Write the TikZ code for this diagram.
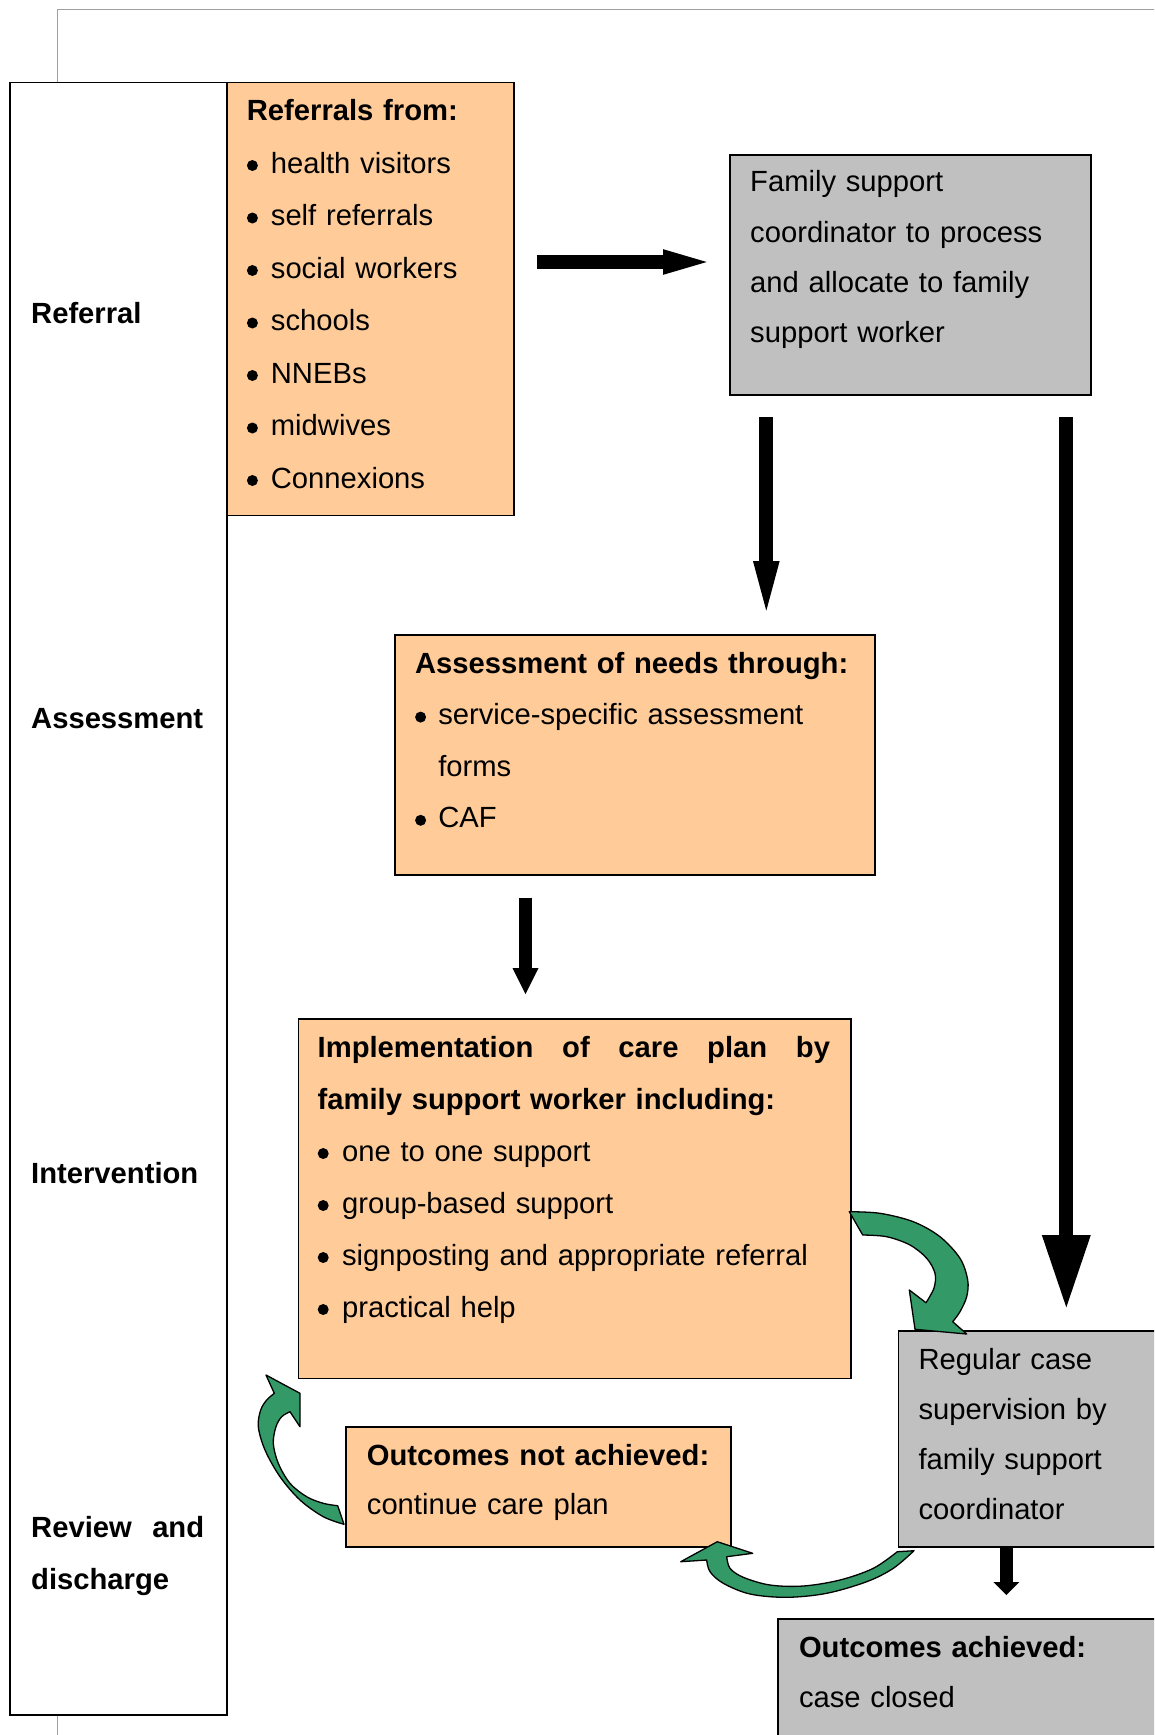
\documentclass[tikz,border=0pt]{standalone}
\usepackage{fontspec}
\setmainfont{Liberation Sans}
\usetikzlibrary{arrows.meta}
\definecolor{peach}{RGB}{255,204,153}
\definecolor{boxgray}{RGB}{192,192,192}
\definecolor{seagreen}{RGB}{51,153,102}
\definecolor{framegray}{RGB}{160,160,160}
\newcommand\bul[1]{\makebox[#1][l]{\raisebox{2pt}{\tikz\fill (0pt,0pt) circle [radius=5.5pt];}}}
\begin{document}
\begin{tikzpicture}[x=1pt,y=-1pt,
  box/.style={draw=black, line width=1.7pt, inner sep=0pt, anchor=north west},
  peachbox/.style={box, fill=peach},
  graybox/.style={box, fill=boxgray},
  txt/.style={anchor=base west, inner sep=0pt, align=left, text width=#1},
  lbl/.style={anchor=base west, inner sep=0pt, align=left, text width=200pt,
    font=\bfseries\fontsize{29.2}{52}\selectfont},
  barrow/.style n args={3}{draw=black, line width=#1,
    -{Triangle[width=#2, length=#3, line width=0pt]}},
  garrow/.style={fill=seagreen, draw=black, line width=1.3pt, line join=round},
  smoothcurve/.style={smooth, tension=0.55}
]
\useasboundingbox (0,0) rectangle (1154,1735);
\clip (0,0) rectangle (1154,1735);

% page frame
\draw[framegray, line width=1.3pt] (57.3,1745) -- (57.3,9.3) -- (1170,9.3);

% stage column
\node[box, fill=white, minimum width=216.7pt, minimum height=1632.6pt] (col) at (9.3,81.7) {};
\node[lbl] (lref) at (31,323.4) {Referral};
\node[lbl] (lass) at (31,728.4) {Assessment};
\node[lbl] (lint) at (31,1183.6) {Intervention};
\node[lbl] (lrev) at (31,1537) {\makebox[173pt][l]{Review\hfill and}\\discharge};

% boxes
\node[peachbox, minimum width=287pt, minimum height=432.8pt] (ref) at (226,81.7) {};
\node[graybox, minimum width=361pt, minimum height=240.3pt] (fsc) at (729.3,154) {};
\node[peachbox, minimum width=480.3pt, minimum height=240pt] (ass) at (393.9,634) {};
\node[peachbox, minimum width=552.4pt, minimum height=359.5pt] (imp) at (297.6,1018) {};
\node[graybox, minimum width=270pt, minimum height=215.7pt] (reg) at (897.7,1330.3) {};
\node[peachbox, minimum width=384.7pt, minimum height=120pt] (notach) at (345.3,1426) {};
\node[graybox, minimum width=390pt, minimum height=130pt] (ach) at (777.3,1618) {};

% texts
\node[txt=280pt, font=\fontsize{29.2}{52.5}\selectfont] (tref) at (246.7,120.5)
  {{\bfseries Referrals from:}\\
   \bul{24pt}health visitors\\
   \bul{24pt}self referrals\\
   \bul{24pt}social workers\\
   \bul{24pt}schools\\
   \bul{24pt}NNEBs\\
   \bul{24pt}midwives\\
   \bul{24pt}Connexions};
\node[txt=335pt, font=\fontsize{29.2}{50.4}\selectfont] (tfsc) at (750,191.7)
  {Family support\\coordinator to process\\and allocate to family\\support worker};
\node[txt=450pt, font=\fontsize{29.2}{51.6}\selectfont] (tass) at (414.9,673)
  {{\bfseries Assessment of needs through:}\\
   \bul{23.2pt}service-specific assessment\\
   \hspace*{23.2pt}forms\\
   \bul{23.2pt}CAF};
\node[txt=525pt, font=\fontsize{29.2}{52}\selectfont] (timp) at (317.5,1057)
  {\makebox[512.3pt][l]{\bfseries Implementation\hfill of\hfill care\hfill plan\hfill by}\\
   {\bfseries family support worker including:}\\
   \bul{24.4pt}one to one support\\
   \bul{24.4pt}group-based support\\
   \bul{24.4pt}signposting and appropriate referral\\
   \bul{24.4pt}practical help};
\node[txt=235pt, font=\fontsize{29.2}{50.1}\selectfont] (treg) at (918.3,1369)
  {Regular case\\supervision by\\family support\\coordinator};
\node[txt=360pt, font=\fontsize{29.2}{49.6}\selectfont] (tnot) at (366.7,1465)
  {{\bfseries Outcomes not achieved:}\\continue care plan};
\node[txt=350pt, font=\fontsize{29.2}{49.8}\selectfont] (tach) at (798.8,1657.7)
  {{\bfseries Outcomes achieved:}\\case closed};

% black block arrows
\coordinate (h1) at (536.7,262);   \coordinate (h2) at (706.7,262);
\coordinate (d1a) at (766.3,417.3); \coordinate (d1b) at (766.3,610.7);
\coordinate (d2a) at (1066.3,417.3); \coordinate (d2b) at (1066.3,1307.3);
\coordinate (d3a) at (525.5,897.7); \coordinate (d3b) at (525.5,994);
\coordinate (d4a) at (1006.3,1546); \coordinate (d4b) at (1006.3,1595);
\draw[barrow={14pt}{25.7pt}{43.7pt}] (h1) -- (h2);
\draw[barrow={14pt}{26.7pt}{49.7pt}] (d1a) -- (d1b);
\draw[barrow={14pt}{49pt}{72.3pt}] (d2a) -- (d2b);
\draw[barrow={13.3pt}{26pt}{26pt}] (d3a) -- (d3b);
\draw[barrow={12.7pt}{26pt}{13pt}] (d4a) -- (d4b);

% green curved arrows
\filldraw[garrow] (849.3,1211.7)
  -- plot[smoothcurve] coordinates {(849.3,1211.7) (880,1213.3) (913.3,1221.7) (940,1236.7) (960,1258.3) (967.7,1280) (966.7,1296.7) (960,1311.7) (952.7,1321.7)}
  -- (966.7,1334) -- (915,1329.3) -- (909.3,1290) -- (926,1302.7)
  -- plot[smoothcurve] coordinates {(926,1302.7) (934,1288) (935,1273.3) (926.7,1258.3) (910,1245) (886.7,1236.7) (862.7,1235)}
  -- cycle;
\filldraw[garrow] (344,1524.3)
  -- plot[smoothcurve] coordinates {(344,1524.3) (323.3,1516.7) (300,1500) (280,1476.7) (265,1450) (258.3,1426.7) (260.7,1410) (266.7,1400) (274.3,1393.3)}
  -- (266,1375) -- (300,1393.3) -- (300,1426.7) -- (290,1411.7)
  -- plot[smoothcurve] coordinates {(290,1411.7) (281.7,1416.7) (276,1426.7) (273.3,1443.3) (278.3,1463.3) (290,1483.3) (306.7,1496.7) (323.3,1503.3) (337.7,1505.7)}
  -- cycle;
\filldraw[garrow] (914,1550.7)
  -- plot[smoothcurve] coordinates {(914,1550.7) (893.3,1568.3) (866.7,1581.7) (826.7,1593.3) (786.7,1597.3) (750,1594) (723.3,1583.3) (710,1571.7) (706.7,1560)}
  -- (680.7,1561.7) -- (717.3,1541.7) -- (752.7,1553.3) -- (726.7,1556.7)
  -- plot[smoothcurve] coordinates {(726.7,1556.7) (730,1568.3) (743.3,1577.3) (770,1585) (803.3,1586) (840,1580) (873.3,1568.3) (897.3,1551.7)}
  -- cycle;
\end{tikzpicture}
\end{document}
